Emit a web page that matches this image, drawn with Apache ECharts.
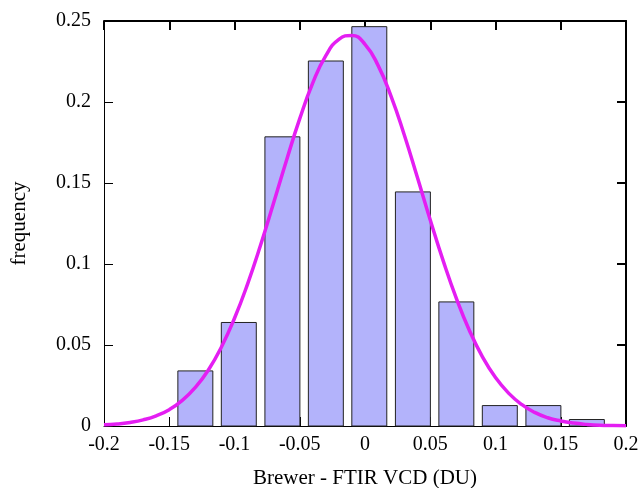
<!DOCTYPE html>
<html>
<head>
<meta charset="utf-8">
<script src="https://cdn.jsdelivr.net/npm/echarts@6/dist/echarts.min.js"></script>
<style>
html,body{margin:0;padding:0;background:#fff;}
#chart{width:641px;height:488px;}
</style>
</head>
<body>
<div id="chart"></div>
<script>
// Histogram bin centres and frequencies
var binCenters = [-0.1300, -0.0967, -0.0633, -0.0300, 0.0033, 0.0367, 0.0700, 0.1033, 0.1367, 0.1700];
var binFreq    = [0.0340, 0.0639, 0.1785, 0.2253, 0.2465, 0.1445, 0.0766, 0.0126, 0.0126, 0.0040];
var binWidth = 0.0268;

// Fitted curve
var curveX = [-0.20,-0.19,-0.18,-0.17,-0.16,-0.15,-0.14,-0.13,-0.12,-0.11,-0.10,-0.09,-0.08,-0.07,-0.06,-0.05,-0.04,-0.03,-0.02,-0.01,0.00,0.01,0.02,0.03,0.04,0.05,0.06,0.07,0.08,0.09,0.10,0.11,0.12,0.13,0.14,0.15,0.16,0.17,0.18,0.19,0.20];
var curveY = [0.0007,0.0012,0.0022,0.0038,0.0063,0.0101,0.0158,0.0238,0.0346,0.0488,0.0665,0.0876,0.1117,0.1378,0.1644,0.1897,0.2118,0.2286,0.2387,0.2411,0.2356,0.2226,0.2035,0.1799,0.1538,0.1272,0.1018,0.0788,0.0590,0.0427,0.0299,0.0203,0.0133,0.0084,0.0051,0.0031,0.0018,0.0010,0.0005,0.0003,0.0001];

var xTitle = 'Brewer - FTIR VCD (DU)';
var yTitle = 'frequency';

var barData = binCenters.map(function(c,i){ return [c, binFreq[i]]; });
var lineData = curveX.map(function(x,i){ return [x, curveY[i]]; });

var FONT = 'Liberation Serif';
function fmt(v){ var r = Math.round(v*100)/100; return String(r); }
function aLine(w){ return {show:true, onZero:false, lineStyle:{color:'#000', width:w}}; }
function aTick(w){ return {show:true, inside:true, length:9, lineStyle:{color:'#000', width:w}}; }

var chart = echarts.init(document.getElementById('chart'), null, {renderer:'canvas'});
chart.setOption({
  animation:false,
  grid:{left:104, right:15, top:21, bottom:62, outerBoundsMode:'none'},
  xAxis:[{
    type:'value', min:-0.2, max:0.2, interval:0.05, position:'bottom',
    axisLine:aLine(1), axisTick:aTick(1), splitLine:{show:false},
    axisLabel:{formatter:fmt, color:'#000', fontFamily:FONT, fontSize:20, margin:9},
    name:xTitle, nameLocation:'middle', nameGap:42,
    nameTextStyle:{color:'#000', fontFamily:FONT, fontSize:21}
  },{
    type:'value', min:-0.2, max:0.2, interval:0.05, position:'top',
    axisLine:aLine(2), axisTick:aTick(2), splitLine:{show:false}, axisLabel:{show:false}
  }],
  yAxis:[{
    type:'value', min:0, max:0.25, interval:0.05, position:'left',
    axisLine:aLine(1), axisTick:aTick(1), splitLine:{show:false},
    axisLabel:{formatter:fmt, color:'#000', fontFamily:FONT, fontSize:20, margin:13},
    name:yTitle, nameLocation:'middle', nameGap:74, nameRotate:90,
    nameTextStyle:{color:'#000', fontFamily:FONT, fontSize:21}
  },{
    type:'value', min:0, max:0.25, interval:0.05, position:'right',
    axisLine:aLine(2), axisTick:aTick(2), splitLine:{show:false}, axisLabel:{show:false}
  }],
  series:[{
    type:'custom',
    data:barData,
    renderItem:function(params, api){
      var c = api.value(0), v = api.value(1);
      var p1 = api.coord([c - binWidth/2, v]);
      var p2 = api.coord([c + binWidth/2, 0]);
      return {type:'rect', shape:{x:p1[0], y:p1[1], width:p2[0]-p1[0], height:p2[1]-p1[1]},
        style:{fill:'#b3b3fb', stroke:'#222', lineWidth:1}};
    },
    z:2
  },{
    type:'line', data:lineData, smooth:true, showSymbol:false, symbol:'none',
    lineStyle:{color:'#e41ef2', width:3.5}, z:3
  }]
});
</script>
</body>
</html>
